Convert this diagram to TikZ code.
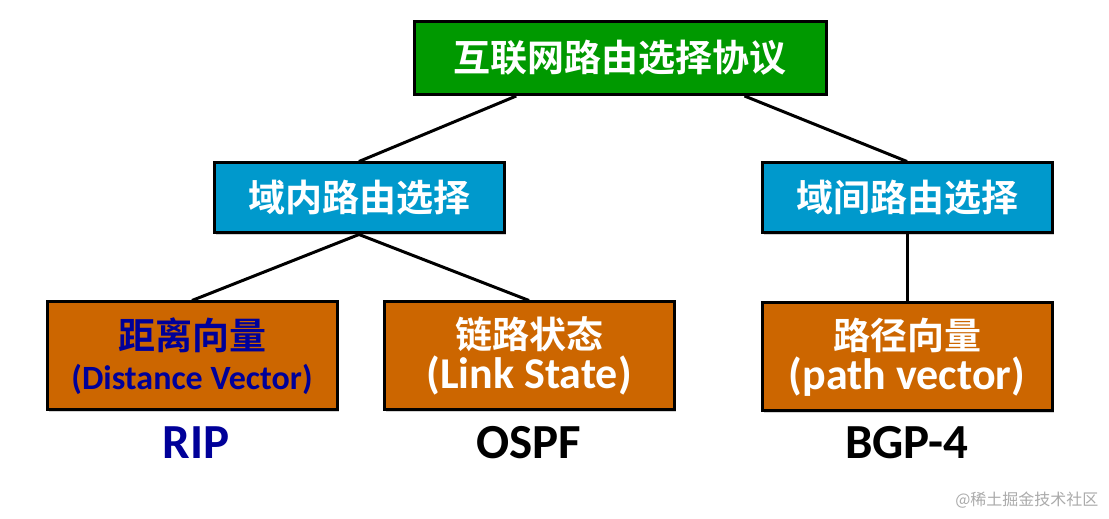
\documentclass[tikz,border=0pt]{standalone}
\usepackage{fontspec}
\setmainfont{Carlito}
\newfontfamily\cjk{Noto Sans CJK SC}[BoldFont={Noto Sans CJK SC Bold}]
\usetikzlibrary{positioning, calc, shadows}
\definecolor{rootgreen}{RGB}{0, 153, 0}
\definecolor{domainblue}{RGB}{0, 153, 204}
\definecolor{leaforange}{RGB}{204, 102, 0}
\definecolor{navytext}{RGB}{0, 0, 153}
\definecolor{markgray}{RGB}{170, 170, 170}

\begin{document}
\begin{tikzpicture}[
    x=1pt, y=1pt,
    basebox/.style={
        draw=black, line width=3pt, align=center, inner sep=0pt,
        drop shadow={shadow xshift=2pt, shadow yshift=-2pt, opacity=0.35}
    },
    rootbox/.style={
        basebox, fill=rootgreen, minimum width=412, minimum height=73,
        font=\cjk\bfseries\fontsize{37}{42}\selectfont, text=white
    },
    domainbox/.style={
        basebox, fill=domainblue, minimum width=290, minimum height=70,
        font=\cjk\bfseries\fontsize{37}{42}\selectfont, text=white
    },
    leafbox/.style={
        basebox, fill=leaforange, minimum width=290, minimum height=108,
        font=\bfseries\fontsize{37}{40}\selectfont, text=white
    },
    protolabel/.style={font=\bfseries\fontsize{49}{52}\selectfont, inner sep=0pt},
    link/.style={draw=black, line width=3pt}
]
\useasboundingbox (0, 0) rectangle (1109, 519);

% ROOT BOX
\node[rootbox] at (620, 461) (root) {互联网路由选择协议};

% DOMAIN BOXES
\node[domainbox] at (359, 321) (intra) {域内路由选择};
\node[domainbox] at (907, 321) (inter) {域间路由选择};

% LEAF BOXES
\node[leafbox, text=navytext] at (192, 163) (dv) {
    {\cjk 距离向量}\\
    {\fontsize{34}{40}\selectfont (Distance Vector)}
};
\node[leafbox] at (529, 163) (ls) {
    {\cjk 链路状态}\\
    {\fontsize{44}{40}\selectfont (Link State)}
};
\node[leafbox, below=67 of inter] (pv) {
    {\cjk 路径向量}\\
    {\fontsize{44}{40}\selectfont (path vector)}
};

% PROTOCOL LABELS
\node[protolabel, text=navytext] at (196, 76) (rip) {RIP};
\node[protolabel] at (529, 76) (ospf) {OSPF};
\node[protolabel] at (907, 76) (bgp) {BGP-4};

% CONNECTORS
\draw[link] ($(root.south west)!0.25!(root.south east)$) -- (intra.north);
\draw[link] ($(root.south west)!0.8!(root.south east)$) -- (inter.north);
\draw[link] (intra.south) -- (dv.north);
\draw[link] (intra.south) -- (ls.north);
\draw[link] (inter.south) -- (pv.north);

% WATERMARK
\node[font=\cjk\fontsize{16}{18}\selectfont, text=markgray, anchor=east] at (1102, 19) (mark) {@稀土掘金技术社区};

\end{tikzpicture}
\end{document}
